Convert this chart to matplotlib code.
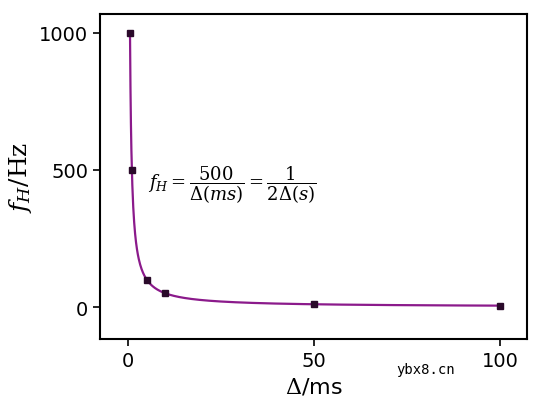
import numpy as np
import matplotlib
matplotlib.use("Agg")
import matplotlib.pyplot as plt

# measured points
delta_ms = [0.5, 1, 5, 10, 50, 100]
f_h = [1000, 500, 100, 50, 10, 5]

# model curve f_H = 500 / delta
x_fit = np.linspace(0.5, 100, 800)
y_fit = 500.0 / x_fit

plt.rcParams['mathtext.fontset'] = 'dejavuserif'
fig = plt.figure(figsize=(5.39, 4.02), dpi=100)
ax = fig.add_axes([0.186, 0.154, 0.792, 0.809])

ax.plot(x_fit, y_fit, color='#8b1a8b', lw=1.6, zorder=2)
ax.plot(delta_ms, f_h, 's', color='#2a0a2a', ms=5, zorder=3)

ax.set_xlim(-7.5, 107.3)
ax.set_ylim(-117, 1069)
ax.set_xticks([0, 50, 100])
ax.set_yticks([0, 500, 1000])
ax.tick_params(labelsize=14, width=1.2, length=5)
for s in ax.spines.values():
    s.set_linewidth(1.5)

ax.set_xlabel(r'$\Delta$/ms', fontsize=16)
ax.set_ylabel(r'$f_H$/Hz', fontsize=18, family='DejaVu Serif')
ax.text(5.4, 449, r'$f_H=\dfrac{500}{\Delta(ms)}=\dfrac{1}{2\Delta(s)}$',
        fontsize=13, va='center')

fig.text(0.735, 0.07, 'ybx8.cn', fontsize=10, family='DejaVu Sans Mono')
fig.savefig('out.png', dpi=100)
